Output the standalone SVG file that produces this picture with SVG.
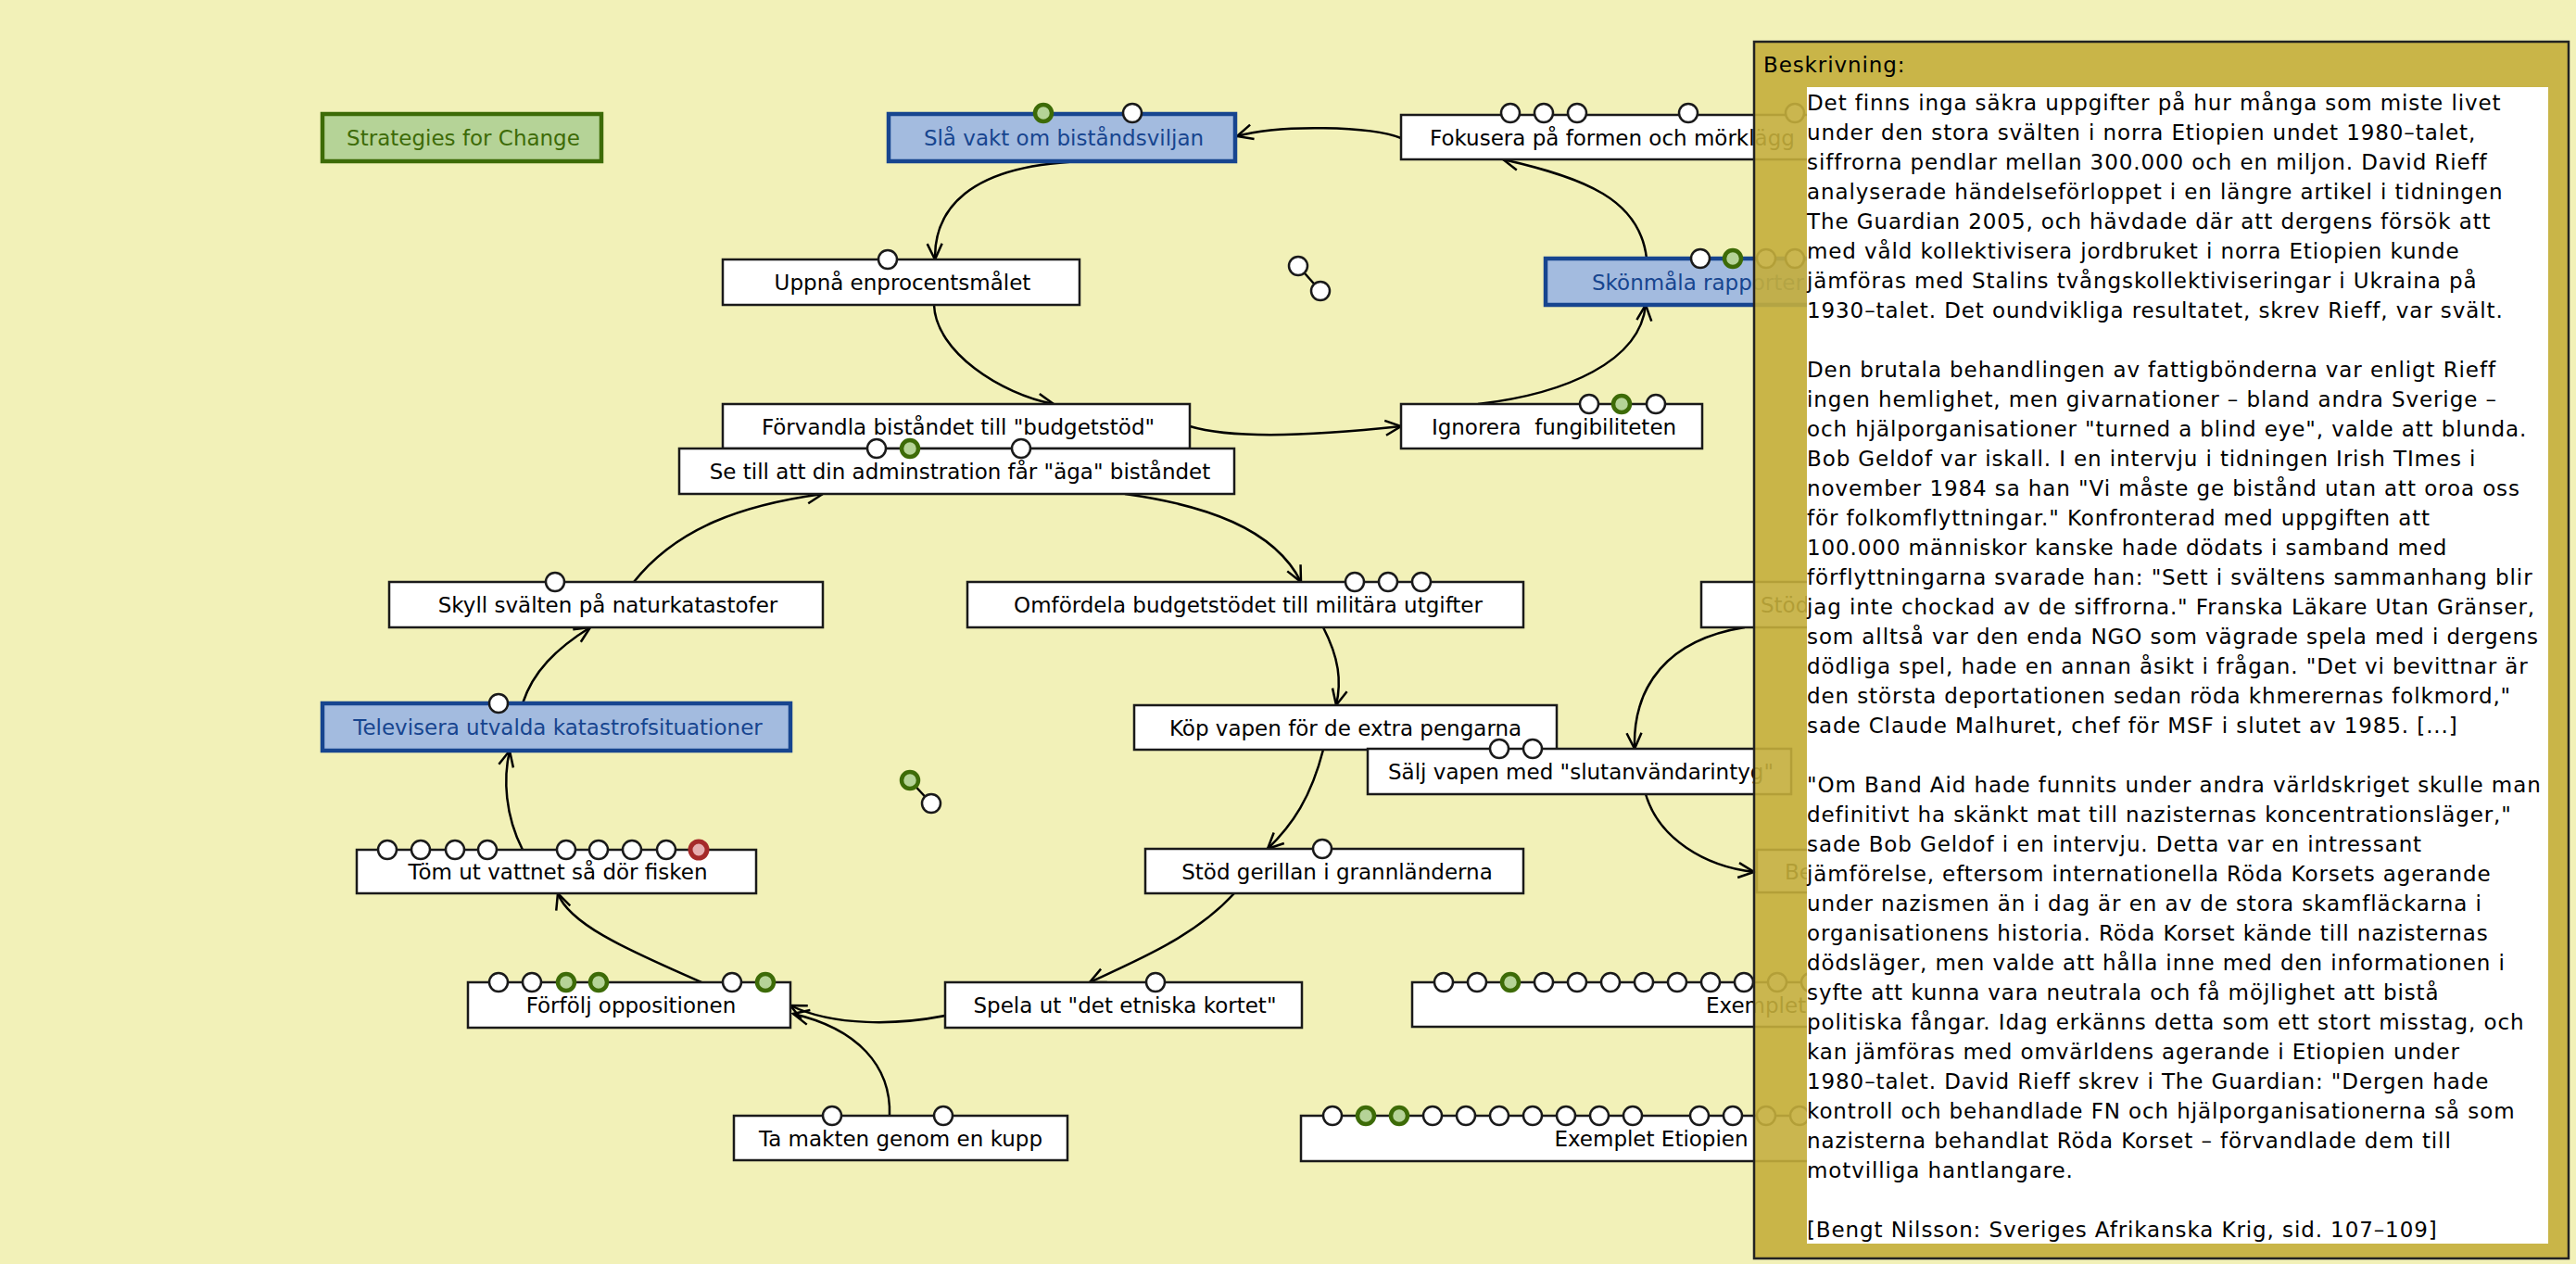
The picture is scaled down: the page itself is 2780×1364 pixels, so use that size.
<svg xmlns="http://www.w3.org/2000/svg" width="2780" height="1364" viewBox="0 0 2780 1364">
<defs>
<style>
.n rect{fill:#fff;stroke:#1a1a1a;stroke-width:2.5}
.n text,.b text,.g text{font-family:"DejaVu Sans",Verdana,sans-serif;font-size:23px;fill:#000;text-anchor:middle}
.b rect{fill:#a3bbdf;stroke:#17458f;stroke-width:4.5}
.b text{fill:#17458f}
.g rect{fill:#b5d397;stroke:#3d6b07;stroke-width:4.5}
.g text{fill:#3d6b07}
.l{text-anchor:start !important}
.c{fill:#fff;stroke:#1a1a1a;stroke-width:2.5}
.cg{fill:#b5d397;stroke:#3d6b07;stroke-width:4.5}
.cr{fill:#e6aeb0;stroke:#a52a2a;stroke-width:5}
.e path{fill:none;stroke:#000;stroke-width:2.5}
.d{font-family:"DejaVu Sans",Verdana,sans-serif;font-size:23px;letter-spacing:0.9px;fill:#000}
</style>
<marker id="ah" viewBox="-20 -12 24 24" refX="0" refY="0" markerWidth="24" markerHeight="24" markerUnits="userSpaceOnUse" orient="auto">
<path d="M-17,-8 L0,0 L-17,8" fill="none" stroke="#000" stroke-width="2.5"/>
</marker>
</defs>
<rect x="0" y="0" width="2780" height="1364" fill="#f2f1b8"/>

<g id="connectors" class="e">
<path d="M1512,149 C1480,136 1380,134 1335,147" marker-end="url(#ah)"/>
<path d="M1177,174 C1040,176 1008,230 1009,280" marker-end="url(#ah)"/>
<path d="M1008,329 C1010,380 1080,425 1137,436" marker-end="url(#ah)"/>
<path d="M1284,460 C1330,474 1420,470 1512,460" marker-end="url(#ah)"/>
<path d="M1595,436 C1690,425 1770,390 1776,329" marker-end="url(#ah)"/>
<path d="M1777,279 C1770,215 1710,192 1622,172" marker-end="url(#ah)"/>
<path d="M1214,533 C1300,545 1375,570 1404,628" marker-end="url(#ah)"/>
<path d="M1428,677 C1445,710 1448,735 1442,761" marker-end="url(#ah)"/>
<path d="M1428,809 C1415,860 1395,890 1368,916" marker-end="url(#ah)"/>
<path d="M1332,964 C1290,1010 1230,1035 1176,1060" marker-end="url(#ah)"/>
<path d="M1020,1096 C970,1106 900,1108 853,1085" marker-end="url(#ah)"/>
<path d="M960,1204 C962,1150 925,1110 856,1094" marker-end="url(#ah)"/>
<path d="M757,1060 C690,1030 615,1000 602,964" marker-end="url(#ah)"/>
<path d="M564,917 C545,880 543,840 550,810" marker-end="url(#ah)"/>
<path d="M564,759 C575,725 600,700 637,677" marker-end="url(#ah)"/>
<path d="M684,628 C730,570 800,545 888,533" marker-end="url(#ah)"/>
<path d="M1883,677 C1800,690 1762,740 1764,808" marker-end="url(#ah)"/>
<path d="M1776,857 C1790,905 1840,935 1893,941" marker-end="url(#ah)"/>
<path d="M1401,287 L1425,314"/>
<path d="M982,842 L1005,867"/>
</g>

<g id="loose1"><circle class="c" cx="1401" cy="287" r="10"/><circle class="c" cx="1425" cy="314" r="10"/></g>
<g id="loose2"><circle class="cg" cx="982" cy="842" r="9"/><circle class="c" cx="1005" cy="867" r="10"/></g>

<g id="n-strategies" class="g"><rect x="348" y="123" width="301" height="51"/><text x="500" y="157">Strategies for Change</text></g>

<g id="n-slavakt" class="b"><rect x="959" y="123" width="374" height="51"/><text x="1148" y="157">Slå vakt om biståndsviljan</text>
<circle class="cg" cx="1126" cy="122" r="9"/><circle class="c" cx="1222" cy="122" r="10"/></g>

<g id="n-fokusera" class="n"><rect x="1512" y="124" width="560" height="48"/><text class="l" x="1543" y="157">Fokusera på formen och mörklägg</text>
<circle class="c" cx="1630" cy="122" r="10"/><circle class="c" cx="1666" cy="122" r="10"/><circle class="c" cx="1702" cy="122" r="10"/><circle class="c" cx="1822" cy="122" r="10"/><circle class="c" cx="1937" cy="122" r="10"/></g>

<g id="n-uppna" class="n"><rect x="780" y="280" width="385" height="49"/><text x="974" y="313">Uppnå enprocentsmålet</text>
<circle class="c" cx="958" cy="280" r="10"/></g>

<g id="n-skonmala" class="b"><rect x="1668" y="279" width="420" height="50"/><text class="l" x="1718" y="313">Skönmåla rapporter</text>
<circle class="c" cx="1835" cy="279" r="10"/><circle class="cg" cx="1870" cy="279" r="9"/><circle class="c" cx="1906" cy="279" r="10"/><circle class="c" cx="1937" cy="279" r="10"/></g>

<g id="n-forvandla" class="n"><rect x="780" y="436" width="504" height="48"/><text x="1034" y="469">Förvandla biståndet till "budgetstöd"</text></g>

<g id="n-ignorera" class="n"><rect x="1512" y="436" width="325" height="48"/><text x="1677" y="469" xml:space="preserve">Ignorera  fungibiliteten</text>
<circle class="c" cx="1715" cy="436" r="10"/><circle class="cg" cx="1750" cy="436" r="9"/><circle class="c" cx="1787" cy="436" r="10"/></g>

<g id="n-setill" class="n"><rect x="733" y="484" width="599" height="49"/><text x="1036" y="517">Se till att din adminstration får "äga" biståndet</text>
<circle class="c" cx="946" cy="484" r="10"/><circle class="cg" cx="982" cy="484" r="9"/><circle class="c" cx="1102" cy="484" r="10"/></g>

<g id="n-skyll" class="n"><rect x="420" y="628" width="468" height="49"/><text x="656" y="661">Skyll svälten på naturkatastofer</text>
<circle class="c" cx="599" cy="628" r="10"/></g>

<g id="n-omfordela" class="n"><rect x="1044" y="628" width="600" height="49"/><text x="1347" y="661">Omfördela budgetstödet till militära utgifter</text>
<circle class="c" cx="1462" cy="628" r="10"/><circle class="c" cx="1498" cy="628" r="10"/><circle class="c" cx="1534" cy="628" r="10"/></g>

<g id="n-stod2" class="n"><rect x="1836" y="628" width="300" height="49"/><text class="l" x="1900" y="661">Stöd</text></g>

<g id="n-televisera" class="b"><rect x="348" y="759" width="505" height="51"/><text x="602" y="793">Televisera utvalda katastrofsituationer</text>
<circle class="c" cx="538" cy="759" r="10"/></g>

<g id="n-kop" class="n"><rect x="1224" y="761" width="456" height="48"/><text x="1452" y="794">Köp vapen för de extra pengarna</text></g>

<g id="n-salj" class="n"><rect x="1476" y="808" width="457" height="49"/><text x="1706" y="841">Sälj vapen med "slutanvändarintyg"</text>
<circle class="c" cx="1618" cy="808" r="10"/><circle class="c" cx="1654" cy="808" r="10"/></g>

<g id="n-tom" class="n"><rect x="385" y="917" width="431" height="47"/><text x="602" y="949">Töm ut vattnet så dör fisken</text>
<circle class="c" cx="418" cy="917" r="10"/><circle class="c" cx="454" cy="917" r="10"/><circle class="c" cx="491" cy="917" r="10"/><circle class="c" cx="526" cy="917" r="10"/><circle class="c" cx="611" cy="917" r="10"/><circle class="c" cx="646" cy="917" r="10"/><circle class="c" cx="682" cy="917" r="10"/><circle class="c" cx="719" cy="917" r="10"/><circle class="cr" cx="754" cy="917" r="9"/></g>

<g id="n-stod" class="n"><rect x="1236" y="916" width="408" height="48"/><text x="1443" y="949">Stöd gerillan i grannländerna</text>
<circle class="c" cx="1427" cy="916" r="10"/></g>

<g id="n-be" class="n"><rect x="1896" y="917" width="240" height="46"/><text class="l" x="1926" y="949">Be</text></g>

<g id="n-forfolj" class="n"><rect x="505" y="1060" width="348" height="49"/><text x="681" y="1093">Förfölj oppositionen</text>
<circle class="c" cx="538" cy="1060" r="10"/><circle class="c" cx="574" cy="1060" r="10"/><circle class="cg" cx="611" cy="1060" r="9"/><circle class="cg" cx="646" cy="1060" r="9"/><circle class="c" cx="790" cy="1060" r="10"/><circle class="cg" cx="826" cy="1060" r="9"/></g>

<g id="n-spela" class="n"><rect x="1020" y="1060" width="385" height="49"/><text x="1214" y="1093">Spela ut "det etniska kortet"</text>
<circle class="c" cx="1247" cy="1060" r="10"/></g>

<g id="n-exempel1" class="n"><rect x="1524" y="1060" width="600" height="48"/><text class="l" x="1841" y="1093">Exemplet</text>
<circle class="c" cx="1558" cy="1060" r="10"/><circle class="c" cx="1594" cy="1060" r="10"/><circle class="cg" cx="1630" cy="1060" r="9"/><circle class="c" cx="1666" cy="1060" r="10"/><circle class="c" cx="1702" cy="1060" r="10"/><circle class="c" cx="1738" cy="1060" r="10"/><circle class="c" cx="1774" cy="1060" r="10"/><circle class="c" cx="1810" cy="1060" r="10"/><circle class="c" cx="1846" cy="1060" r="10"/><circle class="c" cx="1882" cy="1060" r="10"/><circle class="c" cx="1918" cy="1060" r="10"/><circle class="c" cx="1954" cy="1060" r="10"/></g>

<g id="n-takten" class="n"><rect x="792" y="1204" width="360" height="48"/><text x="972" y="1237">Ta makten genom en kupp</text>
<circle class="c" cx="898" cy="1204" r="10"/><circle class="c" cx="1018" cy="1204" r="10"/></g>

<g id="n-exempel2" class="n"><rect x="1404" y="1204" width="756" height="49"/><text x="1782" y="1237">Exemplet Etiopien</text>
<circle class="c" cx="1438" cy="1204" r="10"/><circle class="cg" cx="1474" cy="1204" r="9"/><circle class="cg" cx="1510" cy="1204" r="9"/><circle class="c" cx="1546" cy="1204" r="10"/><circle class="c" cx="1582" cy="1204" r="10"/><circle class="c" cx="1618" cy="1204" r="10"/><circle class="c" cx="1654" cy="1204" r="10"/><circle class="c" cx="1690" cy="1204" r="10"/><circle class="c" cx="1726" cy="1204" r="10"/><circle class="c" cx="1762" cy="1204" r="10"/><circle class="c" cx="1834" cy="1204" r="10"/><circle class="c" cx="1870" cy="1204" r="10"/><circle class="c" cx="1906" cy="1204" r="10"/><circle class="c" cx="1942" cy="1204" r="10"/></g>

<g id="panel">
<rect x="1893" y="45" width="879" height="1313" fill="#c4ae3c" fill-opacity="0.9" stroke="#222" stroke-width="2.5"/>
<text class="d" x="1903" y="78">Beskrivning:</text>
<rect x="1950" y="94" width="800" height="1248" fill="#fff"/>
<text class="d">
<tspan x="1950" y="119">Det finns inga säkra uppgifter på hur många som miste livet</tspan>
<tspan x="1950" y="151">under den stora svälten i norra Etiopien undet 1980–talet,</tspan>
<tspan x="1950" y="183">siffrorna pendlar mellan 300.000 och en miljon. David Rieff</tspan>
<tspan x="1950" y="215">analyserade händelseförloppet i en längre artikel i tidningen</tspan>
<tspan x="1950" y="247">The Guardian 2005, och hävdade där att dergens försök att</tspan>
<tspan x="1950" y="279">med våld kollektivisera jordbruket i norra Etiopien kunde</tspan>
<tspan x="1950" y="311">jämföras med Stalins tvångskollektiviseringar i Ukraina på</tspan>
<tspan x="1950" y="343">1930–talet. Det oundvikliga resultatet, skrev Rieff, var svält.</tspan>
<tspan x="1950" y="407">Den brutala behandlingen av fattigbönderna var enligt Rieff</tspan>
<tspan x="1950" y="439">ingen hemlighet, men givarnationer – bland andra Sverige –</tspan>
<tspan x="1950" y="471">och hjälporganisationer "turned a blind eye", valde att blunda.</tspan>
<tspan x="1950" y="503">Bob Geldof var iskall. I en intervju i tidningen Irish TImes i</tspan>
<tspan x="1950" y="535">november 1984 sa han "Vi måste ge bistånd utan att oroa oss</tspan>
<tspan x="1950" y="567">för folkomflyttningar." Konfronterad med uppgiften att</tspan>
<tspan x="1950" y="599">100.000 människor kanske hade dödats i samband med</tspan>
<tspan x="1950" y="631">förflyttningarna svarade han: "Sett i svältens sammanhang blir</tspan>
<tspan x="1950" y="663">jag inte chockad av de siffrorna." Franska Läkare Utan Gränser,</tspan>
<tspan x="1950" y="695">som alltså var den enda NGO som vägrade spela med i dergens</tspan>
<tspan x="1950" y="727">dödliga spel, hade en annan åsikt i frågan. "Det vi bevittnar är</tspan>
<tspan x="1950" y="759">den största deportationen sedan röda khmerernas folkmord,"</tspan>
<tspan x="1950" y="791">sade Claude Malhuret, chef för MSF i slutet av 1985. [...]</tspan>
<tspan x="1950" y="855">"Om Band Aid hade funnits under andra världskriget skulle man</tspan>
<tspan x="1950" y="887">definitivt ha skänkt mat till nazisternas koncentrationsläger,"</tspan>
<tspan x="1950" y="919">sade Bob Geldof i en intervju. Detta var en intressant</tspan>
<tspan x="1950" y="951">jämförelse, eftersom internationella Röda Korsets agerande</tspan>
<tspan x="1950" y="983">under nazismen än i dag är en av de stora skamfläckarna i</tspan>
<tspan x="1950" y="1015">organisationens historia. Röda Korset kände till nazisternas</tspan>
<tspan x="1950" y="1047">dödsläger, men valde att hålla inne med den informationen i</tspan>
<tspan x="1950" y="1079">syfte att kunna vara neutrala och få möjlighet att bistå</tspan>
<tspan x="1950" y="1111">politiska fångar. Idag erkänns detta som ett stort misstag, och</tspan>
<tspan x="1950" y="1143">kan jämföras med omvärldens agerande i Etiopien under</tspan>
<tspan x="1950" y="1175">1980–talet. David Rieff skrev i The Guardian: "Dergen hade</tspan>
<tspan x="1950" y="1207">kontroll och behandlade FN och hjälporganisationerna så som</tspan>
<tspan x="1950" y="1239">nazisterna behandlat Röda Korset – förvandlade dem till</tspan>
<tspan x="1950" y="1271">motvilliga hantlangare.</tspan>
<tspan x="1950" y="1335">[Bengt Nilsson: Sveriges Afrikanska Krig, sid. 107–109]</tspan>
</text>
</g>
</svg>
